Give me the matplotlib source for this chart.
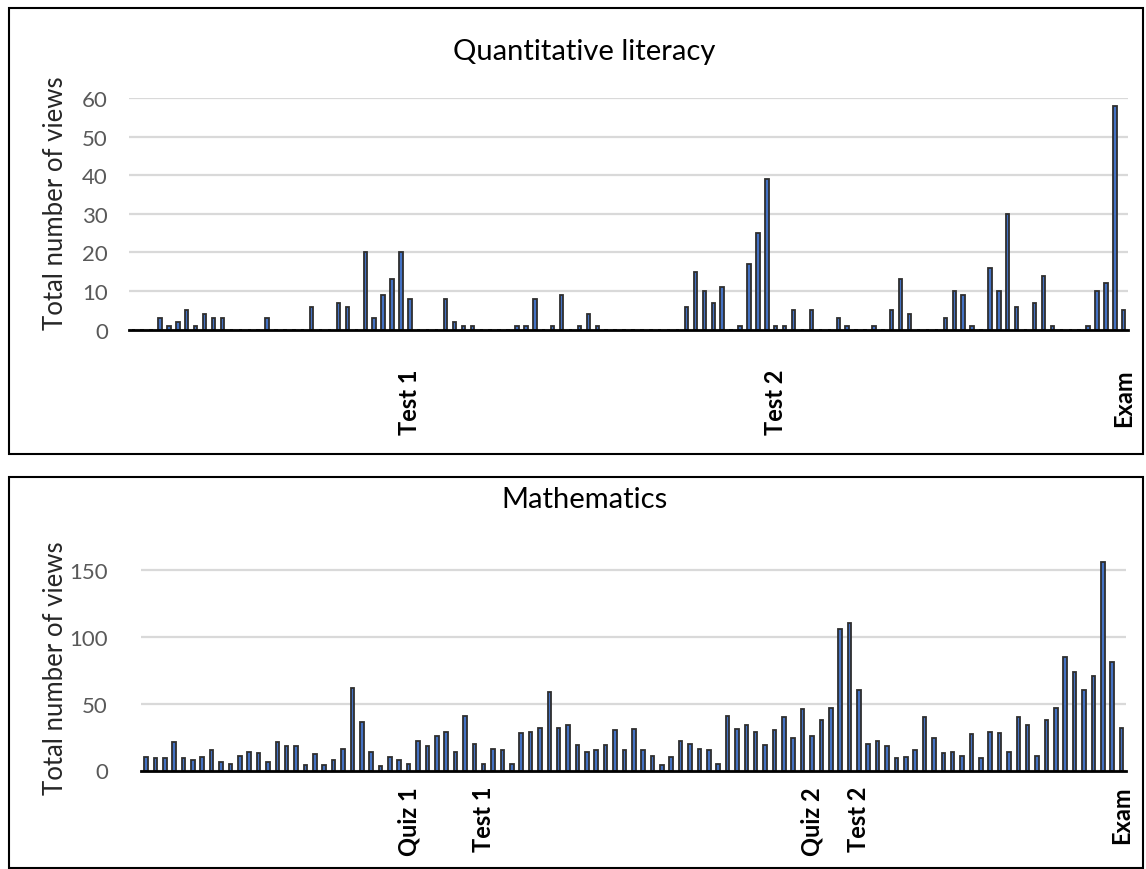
import numpy as np
import matplotlib
matplotlib.use("Agg")
import matplotlib.pyplot as plt
from matplotlib.patches import Rectangle

plt.rcParams['font.family'] = ['Lato', 'DejaVu Sans']

# ---------------- data ----------------
# Quantitative literacy: 112 daily categories
ql_values = [0, 0, 0,
             3, 1, 2, 5, 1, 4, 3, 3, 0, 0, 0, 0, 3, 0, 0, 0, 0, 6,
             0, 0, 7, 6, 0, 20, 3, 9, 13, 20, 8, 0, 0, 0, 8, 2, 1, 1,
             0, 0, 0, 0, 1, 1, 8, 0, 1, 9, 0, 1, 4, 1, 0, 0, 0, 0,
             0, 0, 0, 0, 0, 6, 15, 10, 7, 11, 0, 1, 17, 25, 39, 1, 1, 5,
             0, 5, 0, 0, 3, 1, 0, 0, 1, 0, 5, 13, 4, 0, 0, 0, 3, 10,
             9, 1, 0, 16, 10, 30, 6, 0, 7, 14, 1, 0, 0, 0, 1, 10, 12, 58, 5]
ql_marks = {"Test 1": 31, "Test 2": 72, "Exam": 111}

# Mathematics: 105 daily categories
math_values = [10, 9, 9, 21, 9, 8, 10, 15, 6, 5, 11, 14, 13, 6, 21, 18, 18, 4,
               12, 4, 8, 16, 62, 36, 14, 3, 10, 8, 5, 22, 18, 26, 29, 14, 41, 20,
               5, 16, 15, 5, 28, 29, 32, 59, 32, 34, 19, 14, 15, 19, 30, 15, 31, 15,
               11, 4, 10, 22, 20, 16, 15, 5, 41, 31, 34, 29, 19, 30, 40, 24, 46, 26,
               38, 47, 106, 110, 60, 20, 22, 18, 9, 10, 15, 40, 24, 13, 14, 11, 27, 9,
               29, 28, 14, 40, 34, 11, 38, 47, 85, 74, 60, 71, 156, 81, 32]
math_marks = {"Quiz 1": 28, "Test 1": 36, "Quiz 2": 71, "Test 2": 76, "Exam": 104}

W, H = 1146, 870
fig = plt.figure(figsize=(W / 100, H / 100), dpi=100)

def fx(px):
    return px / W

def fy(py):
    return 1 - py / H

# chart boxes
for (x0, y0, x1, y1) in [(9, 9, 1143, 455), (9, 478, 1143, 869)]:
    fig.patches.append(Rectangle((fx(x0), fy(y1)), fx(x1) - fx(x0), fy(y0) - fy(y1),
                                 transform=fig.transFigure, fill=False,
                                 edgecolor='black', linewidth=1.5, zorder=0))

BAR_FACE = '#4472C4'
BAR_EDGE = '#2E2E2E'
GRID = '#D9D9D9'
TICK_COL = '#595959'


def make_chart(values, marks, left, right, top, base, ymax, yticks,
               title, title_y, ylabel_y, ytick_pad, xlab_pad):
    ax = fig.add_axes([fx(left), fy(base), fx(right) - fx(left), fy(top) - fy(base)])
    n = len(values)
    x = np.arange(n)
    ax.bar(x, values, width=0.38, color=BAR_FACE, edgecolor=BAR_EDGE,
           linewidth=1.3, zorder=3)
    ax.set_xlim(-0.5, n - 0.5)
    ax.set_ylim(0, ymax)
    ax.set_yticks(yticks)
    ax.set_yticklabels([str(v) for v in yticks], fontsize=16, color=TICK_COL)
    ax.yaxis.grid(True, color=GRID, linewidth=1.6, zorder=0)
    ax.set_axisbelow(True)
    for s in ['top', 'right', 'left']:
        ax.spines[s].set_visible(False)
    ax.spines['bottom'].set_linewidth(2.0)
    ax.spines['bottom'].set_color('black')
    ax.spines['bottom'].set_zorder(4)
    ax.tick_params(axis='y', length=0, pad=ytick_pad)
    ax.set_xticks(list(marks.values()))
    ax.set_xticklabels(list(marks.keys()), rotation=90, fontsize=17,
                       fontweight='bold', color='black')
    ax.tick_params(axis='x', length=0, pad=xlab_pad)
    ax.set_ylabel("Total number of views", fontsize=18.5, color='#262626')
    ax.yaxis.set_label_coords(fx(68), fy(ylabel_y), transform=fig.transFigure)
    fig.text(fx(584), fy(title_y), title, ha='center', va='center',
             fontsize=21, color='black')
    return ax


make_chart(ql_values, ql_marks, 128.8, 1128.2, 99, 330.7, 60,
           [0, 10, 20, 30, 40, 50, 60], "Quantitative literacy", 52, 203, 15, 28)

make_chart(math_values, math_marks, 141.3, 1126.2, 530.9, 771.5, 180,
           [0, 50, 100, 150], "Mathematics", 500, 668, 24, 11)

fig.savefig("out.png", dpi=100)
